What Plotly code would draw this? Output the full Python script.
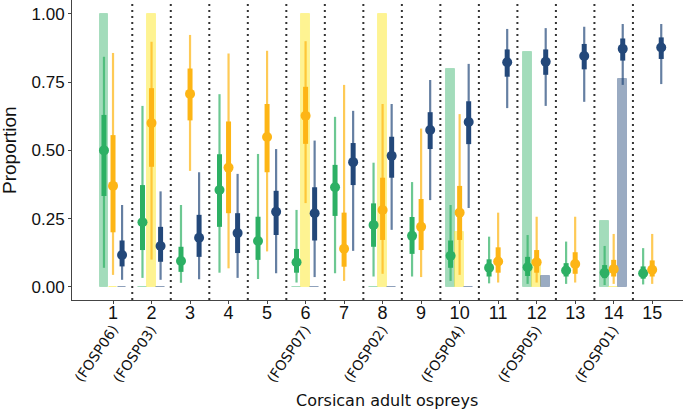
import plotly.graph_objects as go

cats = list(range(1, 16))
tick_labels = [str(c) for c in cats]

green_pt = [0.50, 0.237, 0.095, 0.355, 0.168, 0.09, 0.365, 0.227, 0.187, 0.114, 0.07, 0.072, 0.06, 0.052, 0.05]
green_lo50 = [0.333, 0.135, 0.055, 0.22, 0.099, 0.052, 0.26, 0.147, 0.121, 0.07, 0.038, 0.04, 0.038, 0.032, 0.03]
green_hi50 = [0.63, 0.373, 0.147, 0.486, 0.257, 0.139, 0.447, 0.306, 0.256, 0.17, 0.101, 0.11, 0.087, 0.08, 0.075]
green_lo95 = [0.07, 0.033, 0.015, 0.052, 0.029, 0.016, 0.05, 0.038, 0.038, 0.022, 0.013, 0.011, 0.011, 0.007, 0.009]
green_hi95 = [0.843, 0.663, 0.30, 0.706, 0.487, 0.282, 0.623, 0.455, 0.384, 0.30, 0.184, 0.19, 0.166, 0.15, 0.142]

yellow_pt = [0.37, 0.60, 0.707, 0.437, 0.549, 0.627, 0.14, 0.282, 0.22, 0.272, 0.093, 0.09, 0.084, 0.065, 0.063]
yellow_lo50 = [0.20, 0.44, 0.61, 0.27, 0.42, 0.524, 0.074, 0.172, 0.135, 0.172, 0.052, 0.052, 0.048, 0.038, 0.038]
yellow_hi50 = [0.556, 0.728, 0.80, 0.606, 0.67, 0.733, 0.272, 0.40, 0.322, 0.37, 0.145, 0.135, 0.127, 0.099, 0.097]
yellow_lo95 = [0.044, 0.10, 0.425, 0.068, 0.13, 0.307, 0.022, 0.048, 0.036, 0.044, 0.016, 0.016, 0.016, 0.011, 0.011]
yellow_hi95 = [0.857, 0.898, 0.923, 0.855, 0.865, 0.90, 0.74, 0.67, 0.58, 0.633, 0.272, 0.257, 0.257, 0.194, 0.194]

blue_pt = [0.117, 0.15, 0.18, 0.197, 0.275, 0.27, 0.457, 0.48, 0.575, 0.604, 0.823, 0.825, 0.846, 0.872, 0.877]
blue_lo50 = [0.075, 0.092, 0.11, 0.124, 0.19, 0.17, 0.373, 0.40, 0.505, 0.523, 0.77, 0.777, 0.797, 0.829, 0.835]
blue_hi50 = [0.17, 0.22, 0.264, 0.27, 0.352, 0.365, 0.527, 0.55, 0.64, 0.68, 0.87, 0.87, 0.89, 0.91, 0.914]
blue_lo95 = [0.026, 0.026, 0.028, 0.033, 0.05, 0.036, 0.132, 0.209, 0.318, 0.289, 0.655, 0.663, 0.678, 0.74, 0.743]
blue_hi95 = [0.30, 0.35, 0.42, 0.414, 0.505, 0.536, 0.645, 0.67, 0.758, 0.817, 0.945, 0.948, 0.953, 0.963, 0.963]

known_cats = [1, 2, 6, 8, 10, 12, 14]
known_ids = ["(FOSP06)", "(FOSP03)", "(FOSP07)", "(FOSP02)", "(FOSP04)", "(FOSP05)", "(FOSP01)"]
bar_green = [1.0, 0, 0, 0, 0.80, 0.86, 0.242]
bar_yellow = [0, 1.0, 1.0, 1.0, 0.20, 0.10, 0]
bar_blue = [0, 0, 0, 0, 0, 0.04, 0.76]

OFF = 0.235
BW = 0.225

series = [
    dict(off=-OFF, pt=green_pt, lo50=green_lo50, hi50=green_hi50, lo95=green_lo95, hi95=green_hi95,
         col="#2DB064", thin="rgba(45,176,100,0.7)", bars=bar_green,
         barcol="rgba(45,176,100,0.44)", barline="rgba(45,176,100,0.25)"),
    dict(off=0.0, pt=yellow_pt, lo50=yellow_lo50, hi50=yellow_hi50, lo95=yellow_lo95, hi95=yellow_hi95,
         col="#FDB515", thin="rgba(253,181,21,0.72)", bars=bar_yellow,
         barcol="rgba(253,231,37,0.5)", barline="rgba(253,231,37,0.3)"),
    dict(off=OFF, pt=blue_pt, lo50=blue_lo50, hi50=blue_hi50, lo95=blue_lo95, hi95=blue_hi95,
         col="#23487A", thin="rgba(35,72,122,0.7)", bars=bar_blue,
         barcol="rgba(35,72,122,0.46)", barline="rgba(35,72,122,0.3)"),
]

fig = go.Figure()

for s in series:
    fig.add_trace(go.Bar(
        x=[c + s["off"] for c in known_cats], y=s["bars"], width=BW,
        marker=dict(color=s["barcol"], line=dict(color=s["barline"], width=1)),
        showlegend=False, hoverinfo="skip"))

def segs(xs, lo, hi):
    X, Y = [], []
    for x, a, b in zip(xs, lo, hi):
        X += [x, x, None]
        Y += [a, b, None]
    return X, Y

for s in series:
    xs = [c + s["off"] for c in cats]
    X, Y = segs(xs, s["lo95"], s["hi95"])
    fig.add_trace(go.Scatter(x=X, y=Y, mode="lines", line=dict(color=s["thin"], width=2.2),
                             showlegend=False, hoverinfo="skip"))
    X, Y = segs(xs, s["lo50"], s["hi50"])
    fig.add_trace(go.Scatter(x=X, y=Y, mode="lines", line=dict(color=s["col"], width=5),
                             showlegend=False, hoverinfo="skip"))
    fig.add_trace(go.Scatter(x=xs, y=s["pt"], mode="markers",
                             marker=dict(color=s["col"], size=10), showlegend=False))

for c in cats[:-1]:
    fig.add_shape(type="line", xref="x", yref="paper", x0=c + 0.5, x1=c + 0.5, y0=0, y1=1,
                  line=dict(color="#333333", width=2, dash="2px,4px"), layer="below")

PW, PH, PL, PB = 611, 300, 72, 300  # plot width, height, left, bottom (px)

for c, lab in zip(known_cats, known_ids):
    fig.add_annotation(x=c, y=0, xref="x", yref="paper", text=lab, showarrow=False,
                       textangle=-56, xanchor="center", yanchor="middle",
                       xshift=-17, yshift=-54,
                       font=dict(family="DejaVu Sans", size=14, color="#111111"))

fig.add_annotation(x=(387 - PL) / PW, y=-(400 - PB) / PH, xref="paper", yref="paper",
                   text="Corsican adult ospreys", showarrow=False,
                   xanchor="center", yanchor="middle",
                   font=dict(family="DejaVu Sans", size=16, color="#111111"))
fig.add_annotation(x=-(PL - 9) / PW, y=(PB - 150) / PH, xref="paper", yref="paper",
                   text="Proportion", showarrow=False, textangle=-90,
                   xanchor="center", yanchor="middle",
                   font=dict(family="Liberation Sans, Arial, sans-serif", size=19, color="#111111"))

fig.update_layout(
    width=685, height=409,
    margin=dict(l=72, r=2, t=0, b=109),
    paper_bgcolor="white", plot_bgcolor="white",
    barmode="overlay", bargap=0,
    font=dict(family="Liberation Sans, Arial, sans-serif", color="#111111"),
)
fig.update_xaxes(range=[-0.065, 15.8], tickmode="array", tickvals=cats, ticktext=tick_labels,
                 showgrid=False, zeroline=False, showline=True, linecolor="#444444", linewidth=1,
                 ticks="outside", ticklen=3, tickcolor="#444444", automargin=False,
                 ticklabelstandoff=-7,
                 tickfont=dict(size=18, color="#111111"))
fig.update_yaxes(range=[-0.048, 1.051], tickvals=[0, 0.25, 0.5, 0.75, 1.0],
                 ticktext=["0.00", "0.25", "0.50", "0.75", "1.00"],
                 showgrid=False, zeroline=False, showline=True, linecolor="#444444", linewidth=1,
                 ticks="outside", ticklen=3, tickcolor="#444444", automargin=False,
                 tickfont=dict(size=17, color="#111111"))

fig.write_html("out.html", config={"displayModeBar": False},
               post_script="document.body.style.margin='0';")
